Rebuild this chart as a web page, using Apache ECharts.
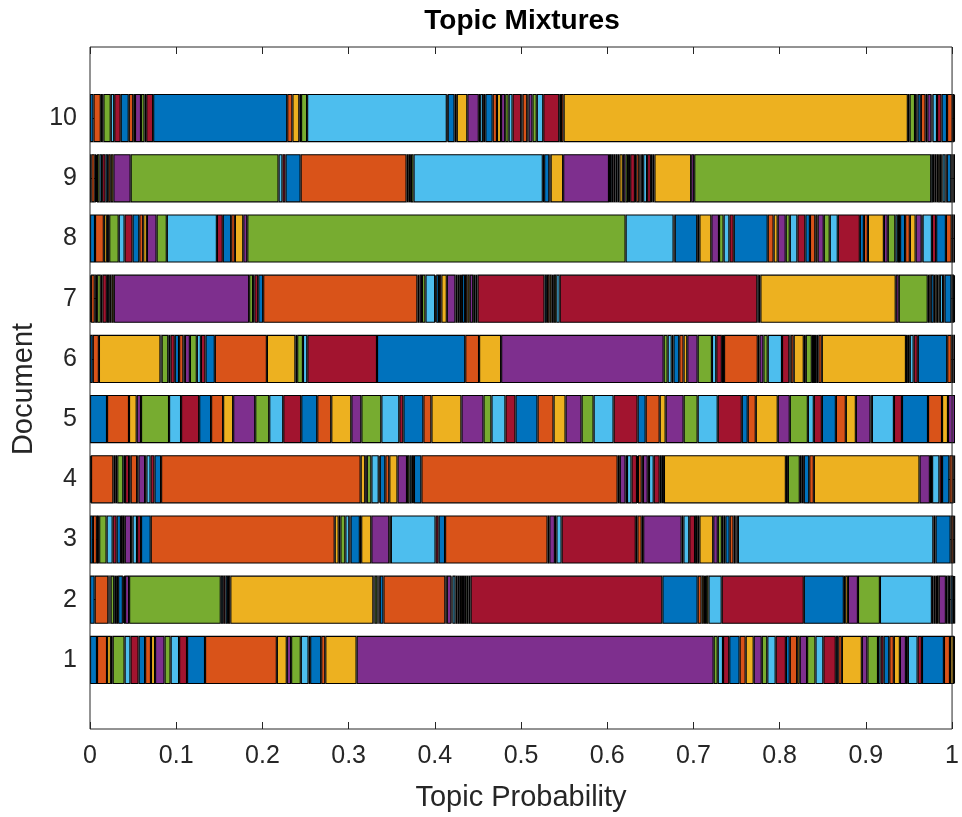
<!DOCTYPE html>
<html><head><meta charset="utf-8">
<script src="https://cdn.jsdelivr.net/npm/echarts@6/dist/echarts.min.js"></script>
<style>html,body{margin:0;padding:0;background:#fff}#c{width:962px;height:817px}</style>
</head><body><div id="c"></div>
<script>
const documents = ['1','2','3','4','5','6','7','8','9','10'];
const xTickLabels = ['0','0.1','0.2','0.3','0.4','0.5','0.6','0.7','0.8','0.9','1'];
const titleText = 'Topic Mixtures';
const xLabelText = 'Topic Probability';
const yLabelText = 'Document';

// topic probabilities (60 topics) per document
const doc1 = [0.0081,0.0116,0.0045,0.0020,0.0138,0.0068,0.0094,0.0075,0.0068,0.0047,0.0110,0.0070,0.0098,0.0092,0.0208,0.0830,0.0115,0.0050,0.0112,0.0090,0.0018,0.0128,0.0047,0.0362,0.4128,0.0047,0.0061,0.0072,0.0120,0.0070,0.0093,0.0093,0.0064,0.0097,0.0118,0.0045,0.0085,0.0030,0.0085,0.0097,0.0091,0.0144,0.0028,0.0042,0.0231,0.0064,0.0123,0.0030,0.0035,0.0065,0.0053,0.0070,0.0070,0.0022,0.0113,0.0050,0.0254,0.0070,0.0046,0.0012];
const doc2 = [0.0054,0.0158,0.0013,0.0013,0.0042,0.0022,0.0023,0.0055,0.0012,0.0013,0.0047,0.1060,0.0028,0.0027,0.0028,0.0027,0.1654,0.0014,0.0032,0.0013,0.0015,0.0042,0.0716,0.0017,0.0053,0.0012,0.0035,0.0025,0.0025,0.0025,0.0025,0.0025,0.0025,0.0025,0.2217,0.0408,0.0045,0.0027,0.0025,0.0028,0.0153,0.0949,0.0463,0.0015,0.0032,0.0116,0.0254,0.0601,0.0019,0.0020,0.0020,0.0020,0.0083,0.0017,0.0018,0.0018,0.0032,0.0007,0.0006,0.0007];
const doc3 = [0.0034,0.0046,0.0013,0.0013,0.0086,0.0070,0.0046,0.0050,0.0022,0.0022,0.0073,0.0017,0.0052,0.0046,0.0112,0.2127,0.0046,0.0020,0.0057,0.0046,0.0014,0.0108,0.0015,0.0117,0.0208,0.0018,0.0517,0.0035,0.0075,0.1185,0.0020,0.0065,0.0017,0.0060,0.0858,0.0018,0.0050,0.0017,0.0445,0.0020,0.0068,0.0067,0.0025,0.0025,0.0160,0.0053,0.0047,0.0020,0.0020,0.0050,0.0045,0.0020,0.0015,0.0015,0.2260,0.0025,0.0175,0.0035,0.0007,0.0008];
const doc4 = [0.0012,0.0258,0.0022,0.0023,0.0070,0.0020,0.0047,0.0018,0.0075,0.0015,0.0077,0.0015,0.0048,0.0045,0.0077,0.2307,0.0053,0.0018,0.0053,0.0085,0.0012,0.0064,0.0046,0.0095,0.0110,0.0028,0.0027,0.0025,0.0086,0.2269,0.0025,0.0067,0.0016,0.0052,0.0064,0.0011,0.0043,0.0014,0.0056,0.0014,0.0055,0.0069,0.0024,0.0025,0.1410,0.0023,0.0138,0.0022,0.0024,0.0063,0.0053,0.1222,0.0120,0.0025,0.0085,0.0030,0.0085,0.0047,0.0009,0.0009];
const doc5 = [0.0197,0.0254,0.0089,0.0050,0.0324,0.0139,0.0209,0.0138,0.0139,0.0116,0.0255,0.0162,0.0162,0.0208,0.0185,0.0162,0.0232,0.0116,0.0231,0.0208,0.0047,0.0231,0.0093,0.0347,0.0255,0.0092,0.0162,0.0116,0.0255,0.0185,0.0139,0.0185,0.0139,0.0231,0.0278,0.0093,0.0162,0.0069,0.0208,0.0162,0.0232,0.0278,0.0069,0.0093,0.0254,0.0139,0.0209,0.0069,0.0093,0.0162,0.0115,0.0116,0.0170,0.0015,0.0255,0.0093,0.0301,0.0162,0.0069,0.0081];
const doc6 = [0.0032,0.0071,0.0712,0.0013,0.0077,0.0025,0.0050,0.0050,0.0050,0.0017,0.0058,0.0080,0.0047,0.0053,0.0108,0.0602,0.0330,0.0020,0.0067,0.0050,0.0806,0.1020,0.0160,0.0255,0.1879,0.0046,0.0047,0.0020,0.0067,0.0050,0.0043,0.0120,0.0165,0.0050,0.0065,0.0025,0.0390,0.0020,0.0045,0.0050,0.0165,0.0085,0.0015,0.0035,0.0117,0.0023,0.0070,0.0025,0.0025,0.0025,0.0040,0.0973,0.0022,0.0022,0.0045,0.0048,0.0340,0.0052,0.0019,0.0019];
const doc7 = [0.0012,0.0043,0.0013,0.0014,0.0043,0.0018,0.0052,0.0027,0.0026,0.0027,0.1565,0.0045,0.0015,0.0045,0.0057,0.1783,0.0025,0.0028,0.0040,0.0112,0.0012,0.0033,0.0027,0.0063,0.0100,0.0025,0.0025,0.0025,0.0035,0.0027,0.0028,0.0040,0.0025,0.0025,0.0775,0.0027,0.0028,0.0027,0.0025,0.0028,0.0040,0.2285,0.0017,0.0018,0.1565,0.0035,0.0335,0.0017,0.0018,0.0035,0.0017,0.0018,0.0018,0.0017,0.0037,0.0016,0.0082,0.0015,0.0013,0.0012];
const doc8 = [0.0058,0.0102,0.0035,0.0027,0.0110,0.0068,0.0092,0.0078,0.0045,0.0043,0.0112,0.0118,0.0579,0.0068,0.0097,0.0043,0.0097,0.0046,0.4374,0.0555,0.0013,0.0260,0.0025,0.0138,0.0089,0.0053,0.0067,0.0050,0.0393,0.0068,0.0047,0.0093,0.0047,0.0088,0.0092,0.0053,0.0062,0.0027,0.0071,0.0069,0.0093,0.0255,0.0047,0.0046,0.0185,0.0045,0.0087,0.0030,0.0025,0.0058,0.0055,0.0067,0.0070,0.0010,0.0108,0.0049,0.0113,0.0067,0.0019,0.0019];
const doc9 = [0.0015,0.0040,0.0015,0.0010,0.0030,0.0030,0.0040,0.0030,0.0030,0.0030,0.0200,0.1710,0.0045,0.0035,0.0175,0.1225,0.0025,0.0025,0.0030,0.1495,0.0015,0.0060,0.0015,0.0145,0.0530,0.0025,0.0025,0.0025,0.0025,0.0020,0.0040,0.0030,0.0030,0.0025,0.0055,0.0015,0.0035,0.0015,0.0015,0.0015,0.0045,0.0045,0.0020,0.0020,0.0425,0.0035,0.2740,0.0020,0.0020,0.0020,0.0020,0.0020,0.0015,0.0015,0.0035,0.0015,0.0052,0.0015,0.0014,0.0014];
const doc10 = [0.0040,0.0085,0.0015,0.0015,0.0085,0.0040,0.0075,0.0093,0.0052,0.0020,0.0070,0.0040,0.0020,0.0080,0.1550,0.0060,0.0080,0.0020,0.0070,0.1615,0.0010,0.0080,0.0025,0.0122,0.0133,0.0015,0.0035,0.0025,0.0085,0.0050,0.0047,0.0048,0.0040,0.0045,0.0100,0.0015,0.0055,0.0015,0.0045,0.0050,0.0075,0.0185,0.0020,0.0030,0.3980,0.0020,0.0063,0.0014,0.0015,0.0038,0.0055,0.0020,0.0048,0.0012,0.0052,0.0053,0.0063,0.0067,0.0013,0.0012];

const topicColors = ['#0072BD','#D95319','#EDB120','#7E2F8E','#77AC30','#4DBEEE','#A2142F'];
const docRows = [doc1, doc2, doc3, doc4, doc5, doc6, doc7, doc8, doc9, doc10];

const FONT = '"Liberation Sans", Arial, Helvetica, sans-serif';
const AX = '#262626';

const series = [];
for (let k = 0; k < doc1.length; k++) {
  series.push({
    type: 'bar', stack: 'mix', xAxisIndex: 1, yAxisIndex: 1,
    barWidth: '80%',
    data: docRows.map(r => r[k]),
    itemStyle: { color: topicColors[k % 7], borderColor: '#000', borderWidth: 1.1 },
    emphasis: { disabled: true },
    animation: false
  });
}

const chart = echarts.init(document.getElementById('c'), null, { renderer: 'canvas' });
chart.setOption({
  animation: false,
  backgroundColor: '#fff',
  textStyle: { fontFamily: FONT },
  grid: [
    { left: 90, right: 7, top: 47, height: 684, show: true, borderColor: AX, borderWidth: 1, backgroundColor: 'transparent', z: 10 },
    { left: 90, right: 7, top: 88, height: 602 }
  ],
  xAxis: [
    { type: 'value', gridIndex: 0, min: 0, max: 1, interval: 0.1, position: 'bottom',
      axisLine: { show: false }, splitLine: { show: false },
      axisTick: { show: true, inside: true, length: 7, lineStyle: { color: AX } },
      axisLabel: { fontSize: 25, color: AX, margin: 15, fontFamily: FONT,
        formatter: (v) => xTickLabels[Math.round(v * 10)] },
      name: xLabelText, nameLocation: 'middle', nameGap: 54,
      nameTextStyle: { fontSize: 29, color: AX, fontFamily: FONT } },
    { type: 'value', gridIndex: 1, min: 0, max: 1, show: false },
    { type: 'value', gridIndex: 0, min: 0, max: 1, interval: 0.1, position: 'top',
      axisLine: { show: false }, splitLine: { show: false }, axisLabel: { show: false },
      axisTick: { show: true, inside: true, length: 7, lineStyle: { color: AX } } }
  ],
  yAxis: [
    { type: 'value', gridIndex: 0, min: 0, max: 1, show: false },
    { type: 'category', gridIndex: 1, data: documents, position: 'left',
      axisLine: { show: false }, splitLine: { show: false },
      axisTick: { show: true, inside: true, length: 7, alignWithLabel: true, lineStyle: { color: AX } },
      axisLabel: { fontSize: 25, color: AX, margin: 13, fontFamily: FONT },
      name: yLabelText, nameLocation: 'middle', nameGap: 48,
      nameTextStyle: { fontSize: 29, color: AX, fontFamily: FONT } },
    { type: 'category', gridIndex: 1, data: documents, position: 'right',
      axisLine: { show: false }, splitLine: { show: false }, axisLabel: { show: false },
      axisTick: { show: true, inside: true, length: 7, alignWithLabel: true, lineStyle: { color: AX } } }
  ],
  graphic: [
    { type: 'text', x: 522, y: 21, z: 100,
      style: { text: titleText, fontSize: 28, fontWeight: 'bold', fill: '#000', fontFamily: FONT,
        align: 'center', verticalAlign: 'middle' } }
  ],
  series: series
});
</script>
</body></html>
